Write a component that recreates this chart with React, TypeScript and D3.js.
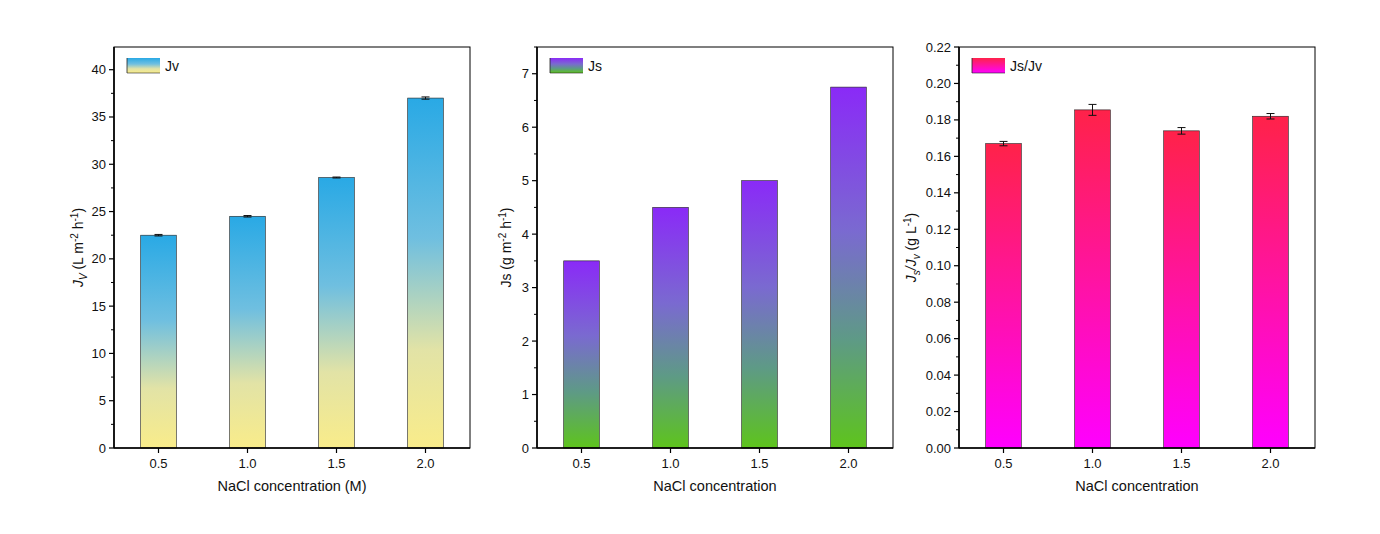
import React from 'react';
import * as d3 from 'd3';

// categories (NaCl concentration, M)
const conc = [0.5, 1.0, 1.5, 2.0];
const concLabels = ['0.5', '1.0', '1.5', '2.0'];

// series values
const jv = [22.5, 24.5, 28.6, 37.0];
const jvErr = [0.08, 0.08, 0.05, 0.12];
const js = [3.5, 4.5, 5.0, 6.75];
const jsErr = [0, 0, 0, 0];
const ratio = [0.167, 0.1855, 0.174, 0.182];
const ratioErr = [0.0012, 0.003, 0.0018, 0.0015];

const jvTicks = [0, 5, 10, 15, 20, 25, 30, 35, 40];
const jsTicks = [0, 1, 2, 3, 4, 5, 6, 7];
const ratioTicks = [0, 0.02, 0.04, 0.06, 0.08, 0.1, 0.12, 0.14, 0.16, 0.18, 0.2, 0.22];

const FONT = 'Liberation Sans, Arial, sans-serif';
const TOP = 47, BOTTOM = 448, PW = 356;

type Stop = [number, string];
interface PanelProps {
  id: string;
  left: number;
  values: number[];
  errs: number[];
  yMax: number;
  ticks: number[];
  minorStep: number;
  fmt: (v: number) => string;
  stops: Stop[];
  legend: string;
  yTitle: React.ReactNode;
  titleX: number;
  xTitle: string;
}

function Panel(p: PanelProps) {
  const x = d3.scaleLinear().domain([0.25, 2.25]).range([p.left, p.left + PW]);
  const y = d3.scaleLinear().domain([0, p.yMax]).range([BOTTOM, TOP]);
  const minor = d3.range(0, p.yMax + 1e-9, p.minorStep).filter(v => !p.ticks.some(t => Math.abs(t - v) < 1e-9));
  const bw = x(0.2) - x(0);
  const gid = `grad-${p.id}`;
  return (
    <g>
      <defs>
        <linearGradient id={gid} x1="0" y1="0" x2="0" y2="1">
          {p.stops.map(([o, c], i) => <stop key={i} offset={o} stopColor={c} />)}
        </linearGradient>
      </defs>
      {/* bars */}
      {p.values.map((v, i) => (
        <rect key={i} x={x(conc[i]) - bw / 2} y={y(v)} width={bw} height={y(0) - y(v)}
          fill={`url(#${gid})`} stroke="#222" strokeWidth={0.6} />
      ))}
      {/* error bars */}
      {p.values.map((v, i) => p.errs[i] > 0 && (
        <g key={i} stroke="#111" strokeWidth={1}>
          <line x1={x(conc[i])} x2={x(conc[i])} y1={y(v - p.errs[i])} y2={y(v + p.errs[i])} />
          <line x1={x(conc[i]) - 4} x2={x(conc[i]) + 4} y1={y(v + p.errs[i])} y2={y(v + p.errs[i])} />
          <line x1={x(conc[i]) - 4} x2={x(conc[i]) + 4} y1={y(v - p.errs[i])} y2={y(v - p.errs[i])} />
        </g>
      ))}
      {/* frame */}
      <rect x={p.left} y={TOP} width={PW} height={BOTTOM - TOP} fill="none" stroke="#000" strokeWidth={1} />
      <line x1={p.left} x2={p.left} y1={TOP} y2={BOTTOM} stroke="#000" strokeWidth={1.6} />
      <line x1={p.left} x2={p.left + PW} y1={BOTTOM} y2={BOTTOM} stroke="#000" strokeWidth={1.6} />
      {/* y ticks */}
      {p.ticks.map(t => (
        <g key={t}>
          <line x1={p.left - 5} x2={p.left} y1={y(t)} y2={y(t)} stroke="#000" strokeWidth={1.2} />
          <text x={p.left - 8} y={y(t) + 4.5} textAnchor="end" fontSize={13} fontFamily={FONT} fill="#111">{p.fmt(t)}</text>
        </g>
      ))}
      {minor.map(t => (
        <line key={t} x1={p.left - 3} x2={p.left} y1={y(t)} y2={y(t)} stroke="#000" strokeWidth={1} />
      ))}
      {/* x ticks */}
      {conc.map((c, i) => (
        <g key={c}>
          <line x1={x(c)} x2={x(c)} y1={BOTTOM} y2={BOTTOM + 5} stroke="#000" strokeWidth={1.2} />
          <text x={x(c)} y={BOTTOM + 20} textAnchor="middle" fontSize={13} fontFamily={FONT} fill="#111">{concLabels[i]}</text>
        </g>
      ))}
      <text x={p.left + PW / 2} y={BOTTOM + 43} textAnchor="middle" fontSize={14.5} fontFamily={FONT} fill="#111">{p.xTitle}</text>
      {/* y title */}
      <text transform={`translate(${p.titleX},${(TOP + BOTTOM) / 2}) rotate(-90)`} textAnchor="middle"
        fontSize={14} fontFamily={FONT} fill="#111">{p.yTitle}</text>
      {/* legend */}
      <rect x={p.left + 13} y={58} width={33} height={15} fill={`url(#${gid})`} />
      <line x1={p.left + 13} x2={p.left + 13} y1={58} y2={73} stroke="#222" strokeWidth={0.8} />
      <line x1={p.left + 13} x2={p.left + 46} y1={73} y2={73} stroke="#222" strokeWidth={0.6} />
      <text x={p.left + 51} y={71} fontSize={14} fontFamily={FONT} fill="#111">{p.legend}</text>
    </g>
  );
}

export default function App() {
  const f0 = (v: number) => d3.format('d')(v);
  const f2 = (v: number) => d3.format('.2f')(v);
  return (
    <svg width={1380} height={534} style={{ position: 'absolute', left: 0, top: 0, background: '#fff' }}>
      <rect width={1380} height={534} fill="#fff" />
      <Panel id="jv" left={114} values={jv} errs={jvErr} yMax={42.4} ticks={jvTicks} minorStep={2.5} fmt={f0}
        stops={[[0, '#29a9e5'], [0.4, '#6fbfe0'], [0.72, '#e2e3a6'], [1, '#f9ec8a']]}
        legend="Jv" titleX={83} xTitle="NaCl concentration (M)"
        yTitle={<>
          <tspan fontStyle="italic">J</tspan>
          <tspan fontStyle="italic" fontSize={10} dy={4}>V</tspan>
          <tspan dy={-4}> (L m</tspan>
          <tspan fontSize={10} dy={-5}>-2</tspan>
          <tspan dy={5}> h</tspan>
          <tspan fontSize={10} dy={-5}>-1</tspan>
          <tspan dy={5}>)</tspan>
        </>} />
      <Panel id="js" left={537} values={js} errs={jsErr} yMax={7.5} ticks={jsTicks} minorStep={0.5} fmt={f0}
        stops={[[0, '#8a2af7'], [0.4, '#7a6ad0'], [0.7, '#5e9a86'], [1, '#5ec41c']]}
        legend="Js" titleX={511} xTitle="NaCl concentration"
        yTitle={<>
          <tspan>Js (g m</tspan>
          <tspan fontSize={10} dy={-5}>-2</tspan>
          <tspan dy={5}> h</tspan>
          <tspan fontSize={10} dy={-5}>-1</tspan>
          <tspan dy={5}>)</tspan>
        </>} />
      <Panel id="ratio" left={959} values={ratio} errs={ratioErr} yMax={0.22} ticks={ratioTicks} minorStep={0.01} fmt={f2}
        stops={[[0, '#ff2249'], [0.5, '#ff13a2'], [1, '#ff00ff']]}
        legend="Js/Jv" titleX={916} xTitle="NaCl concentration"
        yTitle={<>
          <tspan fontStyle="italic">J</tspan>
          <tspan fontStyle="italic" fontSize={10} dy={4}>s</tspan>
          <tspan dy={-4} fontStyle="italic">/J</tspan>
          <tspan fontStyle="italic" fontSize={10} dy={4}>v</tspan>
          <tspan dy={-4}> (g L</tspan>
          <tspan fontSize={10} dy={-5}>-1</tspan>
          <tspan dy={5}>)</tspan>
        </>} />
    </svg>
  );
}
